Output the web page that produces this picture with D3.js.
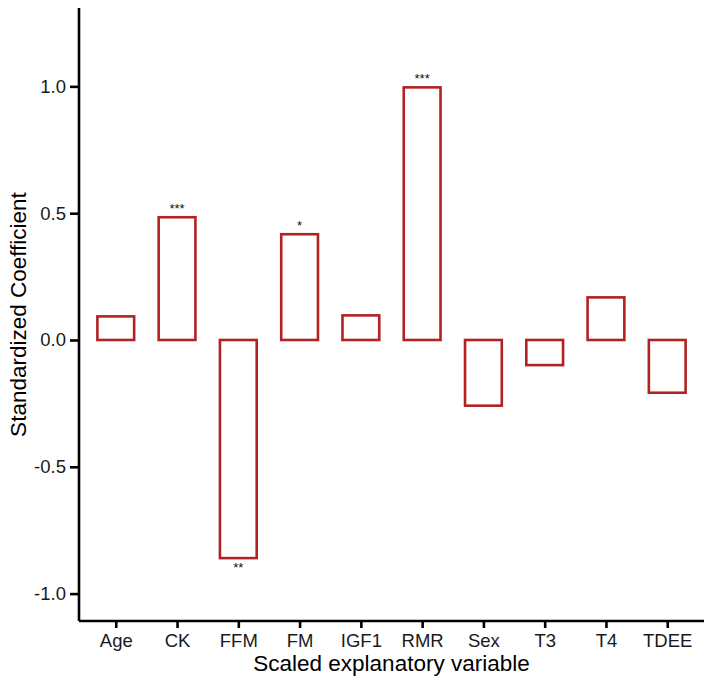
<!DOCTYPE html>
<html>
<head>
<meta charset="utf-8">
<script src="https://cdn.jsdelivr.net/npm/d3@7"></script>
<style>
  body { margin: 0; background: #fff; }
  text { font-family: "Liberation Sans", Arial, sans-serif; }
</style>
</head>
<body>
<div id="chart"></div>
<script>
// values
var variables = ["Age", "CK", "FFM", "FM", "IGF1", "RMR", "Sex", "T3", "T4", "TDEE"];
var coefficients = [0.093, 0.484, -0.86, 0.417, 0.097, 0.996, -0.259, -0.099, 0.168, -0.208];
var stars = ["", "***", "**", "*", "", "***", "", "", "", ""];
var yTicks = [-1.0, -0.5, 0.0, 0.5, 1.0];

var width = 714, height = 685;
var margin = {top: 8, right: 10, bottom: 64, left: 79};

var data = variables.map(function(v, i) {
  return {name: v, value: coefficients[i], sig: stars[i]};
});

var svg = d3.select("#chart").append("svg")
  .attr("width", width)
  .attr("height", height);

// ggplot-like discrete scale: 0.6 units of expansion each side
var x = d3.scalePoint()
  .domain(variables)
  .range([margin.left, width - margin.right])
  .padding(0.6);
var step = x.step();
var barW = step * 0.6;

var y = d3.scaleLinear()
  .domain([-1.108, 1.309])
  .range([height - margin.bottom, margin.top]);

var barColor = "#b22222";

svg.selectAll(".bar")
  .data(data)
  .enter()
  .append("rect")
  .attr("class", "bar")
  .attr("x", function(d) { return x(d.name) - barW / 2; })
  .attr("y", function(d) { return y(Math.max(0, d.value)); })
  .attr("width", barW)
  .attr("height", function(d) { return Math.abs(y(d.value) - y(0)); })
  .attr("fill", "none")
  .attr("stroke", barColor)
  .attr("stroke-width", 2.6);

// significance stars
svg.selectAll(".sig")
  .data(data.filter(function(d) { return d.sig; }))
  .enter()
  .append("text")
  .attr("class", "sig")
  .attr("x", function(d) { return x(d.name); })
  .attr("y", function(d) { return d.value > 0 ? y(d.value) - 4 : y(d.value) + 14; })
  .attr("text-anchor", "middle")
  .attr("font-size", 13)
  .attr("fill", "#111")
  .text(function(d) { return d.sig; });

// axes
var xAxis = d3.axisBottom(x).tickSize(7).tickPadding(6);
var yAxis = d3.axisLeft(y).tickValues(yTicks).tickSize(9).tickPadding(4)
  .tickFormat(function(d) { return d3.format(".1f")(d).replace("\u2212", "-"); });

var gx = svg.append("g")
  .attr("transform", "translate(0," + (height - margin.bottom) + ")")
  .call(xAxis);
var gy = svg.append("g")
  .attr("transform", "translate(" + margin.left + ",0)")
  .call(yAxis);

[gx, gy].forEach(function(g) {
  g.select(".domain").attr("stroke", "#000").attr("stroke-width", 2.6);
  g.selectAll(".tick line").attr("stroke", "#000").attr("stroke-width", 2.6);
  g.selectAll(".tick text")
    .attr("font-family", "'Liberation Sans', Arial, sans-serif")
    .attr("font-size", 18.5)
    .attr("fill", "#1a1a1a");
});
gx.select(".domain").attr("d", "M" + margin.left + ",0H" + (width - margin.right));
gy.select(".domain").attr("d", "M0," + margin.top + "V" + (height - margin.bottom));

// titles
svg.append("text")
  .attr("x", (margin.left + width - margin.right) / 2)
  .attr("y", 671)
  .attr("text-anchor", "middle")
  .attr("font-size", 22.5)
  .attr("fill", "#000")
  .text("Scaled explanatory variable");

svg.append("text")
  .attr("transform", "translate(26," + ((margin.top + height - margin.bottom) / 2) + ") rotate(-90)")
  .attr("text-anchor", "middle")
  .attr("font-size", 22.5)
  .attr("fill", "#000")
  .text("Standardized Coefficient");
</script>
</body>
</html>
